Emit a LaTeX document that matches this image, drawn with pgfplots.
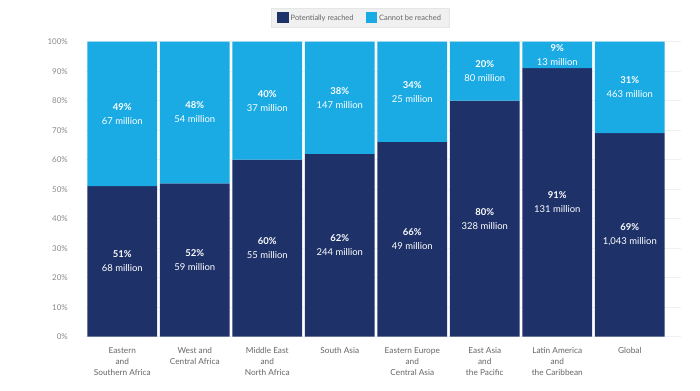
\documentclass[border=0pt]{standalone}
\usepackage{pgfplots}
\pgfplotsset{compat=1.18}
\usepackage{fontspec}
\setmainfont{Lato}
\definecolor{darkblue}{HTML}{1E3168}
\definecolor{lightblue}{HTML}{1AAAE4}
\definecolor{ticktext}{HTML}{8A8A8A}
\definecolor{cattext}{HTML}{666666}
\begin{document}
\begin{tikzpicture}
\fill[white] (-86.05bp,-54.3bp) rectangle (613.95bp,336.7bp);
\begin{axis}[
  at={(0,0)}, anchor=south west,
  scale only axis,
  width=594.5bp, height=295bp,
  xmin=-0.5, xmax=7.7,
  ymin=0, ymax=100,
  axis line style={draw=none},
  major tick length=0pt,
  ytick={0,10,...,100},
  yticklabel={\pgfmathprintnumber{\tick}\%},
  /pgf/number format/assume math mode=true,
  yticklabel style={font=\fontsize{8}{9}\selectfont, text=ticktext, anchor=east, inner sep=0pt, xshift=-18bp},
  xtick={0,...,7},
  xticklabels={{Eastern\\and\\Southern Africa},{West and\\Central Africa},{Middle East\\and\\North Africa},{South Asia},{Eastern Europe\\and\\Central Asia},{East Asia\\and\\the Pacific},{Latin America\\and\\the Caribbean},{Global}},
  xticklabel style={font=\fontsize{8.3}{10.7}\selectfont, text=cattext, align=center, anchor=north, inner sep=0pt, yshift=-11bp},
  ymajorgrids, grid style={gray!12, line width=0.5bp},
  legend style={at={(0.461,1)}, anchor=south, yshift=14bp, fill=gray!12, draw=gray!20,
    font=\fontsize{7.5}{9}\selectfont, text=cattext, inner xsep=6bp, inner ysep=4bp,
    legend cell align=left},
  legend columns=2,
  legend image code/.code={\fill[#1] (0bp,-5.5bp) rectangle (11.5bp,6bp);},
  /tikz/every even column/.append style={column sep=10bp},
  clip=false,
]
\addlegendimage{fill=darkblue, draw=none}
\addlegendentry{Potentially reached}
\addlegendimage{fill=lightblue, draw=none}
\addlegendentry{Cannot be reached}

\addplot[ybar, stack plots=y, bar width=0.96, bar shift=0pt, fill=darkblue, draw=none, forget plot]
  coordinates {(0,51) (1,52) (2,60) (3,62) (4,66) (5,80) (6,91) (7,69)};
\addplot[ybar, stack plots=y, bar width=0.96, bar shift=0pt, fill=lightblue, draw=none, forget plot]
  coordinates {(0,49) (1,48) (2,40) (3,38) (4,34) (5,20) (6,9) (7,31)};

\addplot[stack plots=false, draw=none, mark=none, forget plot,
  point meta=explicit symbolic, nodes near coords={\pgfplotspointmeta},
  every node near coord/.style={anchor=center, align=center, text=white, font=\fontsize{9.5}{14}\selectfont}]
  coordinates {
  (0,25.5) [\textbf{51\%}\\68 million]
  (1,26) [\textbf{52\%}\\59 million]
  (2,30) [\textbf{60\%}\\55 million]
  (3,31) [\textbf{62\%}\\244 million]
  (4,33) [\textbf{66\%}\\49 million]
  (5,40) [\textbf{80\%}\\328 million]
  (6,45.5) [\textbf{91\%}\\131 million]
  (7,34.5) [\textbf{69\%}\\1,043 million]
  };
\addplot[stack plots=false, draw=none, mark=none, forget plot,
  point meta=explicit symbolic, nodes near coords={\pgfplotspointmeta},
  every node near coord/.style={anchor=center, align=center, text=white, font=\fontsize{9.5}{14}\selectfont}]
  coordinates {
  (0,75.5) [\textbf{49\%}\\67 million]
  (1,76) [\textbf{48\%}\\54 million]
  (2,80) [\textbf{40\%}\\37 million]
  (3,81) [\textbf{38\%}\\147 million]
  (4,83) [\textbf{34\%}\\25 million]
  (5,90) [\textbf{20\%}\\80 million]
  (6,95.5) [\textbf{9\%}\\13 million]
  (7,84.5) [\textbf{31\%}\\463 million]
  };
\end{axis}
\path[use as bounding box] (-86.05bp,-54.3bp) rectangle (613.95bp,336.7bp);
\end{tikzpicture}
\end{document}
